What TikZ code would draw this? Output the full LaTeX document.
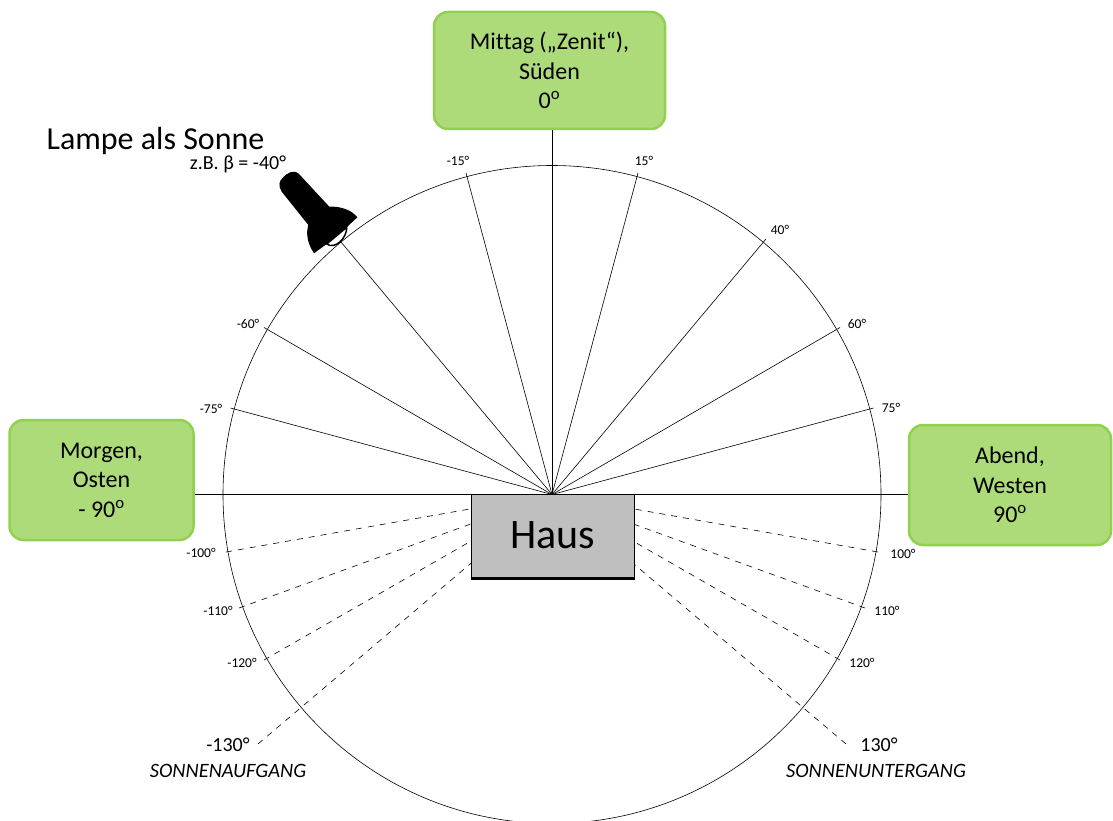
\documentclass[tikz,border=0pt]{standalone}
\usepackage{fontspec}
\setmainfont[Ligatures=NoCommon]{Carlito}
\definecolor{boxgreen}{HTML}{AEDB7A}
\definecolor{boxedge}{HTML}{92D050}
\definecolor{hausgray}{HTML}{BFBFBF}
\tikzset{
  sky/.style={draw=boxedge,fill=boxgreen,line width=2.5pt,rounded corners=14pt,align=center,
    inner sep=0pt,font=\fontsize{24}{29.5}\selectfont},
  ray/.style={line width=0.6pt},
  rayback/.style={line width=0.6pt,dash pattern=on 6pt off 6pt},
  deg/.style={font=\fontsize{13.5}{16}\selectfont,inner sep=0pt},
  degbig/.style={font=\fontsize{20}{24}\selectfont,inner sep=0pt},
  horizon/.style={font=\fontsize{20.4}{24}\itshape\selectfont,inner sep=0pt}
}

\begin{document}
\begin{tikzpicture}[x=1pt,y=-1pt]
  \useasboundingbox (0,0) rectangle (1113,821);
  \coordinate (hub) at (552,494.5);
  \node[sky,minimum width=231pt,minimum height=117pt] (mittag) at (549.5,70.5)
    {Mittag („Zenit“),\\Süden\\0\textsuperscript{o}};
  \node[sky,minimum width=184pt,minimum height=120pt] (morgen) at (101.5,480)
    {Morgen,\\Osten\\- 90\textsuperscript{o}};
  \node[sky,minimum width=202pt,minimum height=120pt] (abend) at (1010,485)
    {Abend,\\Westen\\90\textsuperscript{o}};
  \draw[line width=0.6pt] (hub) circle [radius=329];
  % rays above the horizon
  \coordinate (e15) at (638,173);
  \coordinate (e40) at (766,239);
  \coordinate (e60) at (840,327.5);
  \coordinate (e75) at (873.5,408);
  \coordinate (w15) at (466,173);
  \coordinate (w40) at (341,242);
  \coordinate (w60) at (264,327.5);
  \coordinate (w75) at (230.5,408);
  \draw[ray] (hub) -- (mittag.south -| hub);
  \draw[ray] (hub) -- (morgen.east |- hub);
  \draw[ray] (hub) -- (abend.west |- hub);
  \draw[ray] (hub) -- (e15);
  \draw[ray] (hub) -- (e40);
  \draw[ray] (hub) -- (e60);
  \draw[ray] (hub) -- (e75);
  \draw[ray] (hub) -- (w15);
  \draw[ray] (hub) -- (w40);
  \draw[ray] (hub) -- (w60);
  \draw[ray] (hub) -- (w75);
  % rays below the horizon
  \coordinate (e100) at (878,552);
  \coordinate (e110) at (865,608);
  \coordinate (e120) at (840,660);
  \coordinate (e130) at (846,744);
  \coordinate (w100) at (226,552);
  \coordinate (w110) at (239,608);
  \coordinate (w120) at (264,660);
  \coordinate (w130) at (258,744);
  \draw[rayback] (e100) -- (hub);
  \draw[rayback] (e110) -- (hub);
  \draw[rayback] (e120) -- (hub);
  \draw[rayback] (e130) -- (hub);
  \draw[rayback] (w100) -- (hub);
  \draw[rayback] (w110) -- (hub);
  \draw[rayback] (w120) -- (hub);
  \draw[rayback] (w130) -- (hub);
  % house
  \node[draw=black,fill=hausgray,line width=1pt,minimum width=163pt,minimum height=84pt,inner sep=0pt,
    font=\fontsize{42}{48}\selectfont] (haus) at (552.5,536) {\raisebox{2pt}{Haus}};
  \draw[line width=3pt] (haus.south west) -- (haus.south east);
  % lamp
  \fill (281.7,191.7) .. controls (278,186) and (279,181) .. (283,177.5)
    .. controls (287,173) and (294,169) .. (299,174)
    -- (329.3,206.7) .. controls (340,206) and (352,210) .. (357.3,217.3)
    -- (346.7,227.3) -- (326.7,244) -- (314,253.3)
    .. controls (307,243) and (306,233) .. (308.3,225) -- cycle;
  \draw[fill=white,line width=1.5pt] (346.7,227.3) .. controls (347,238) and (335,250) .. (326.7,244) -- cycle;
  % labels
  \node[deg] (lm15) at (458,161) {-15°};
  \node[deg] (lp15) at (644,161) {15°};
  \node[deg] (lp40) at (780,230) {40°};
  \node[deg] (lp60) at (857,324) {60°};
  \node[deg] (lp75) at (891,408) {75°};
  \node[deg] (lm60) at (248,324) {-60°};
  \node[deg] (lm75) at (211,409) {-75°};
  \node[deg] (lm100) at (201,553) {-100°};
  \node[deg] (lm110) at (218,611) {-110°};
  \node[deg] (lm120) at (242,663) {-120°};
  \node[deg] (lp100) at (903,554) {100°};
  \node[deg] (lp110) at (887,611) {110°};
  \node[deg] (lp120) at (862,663) {120°};
  \node[degbig] (lm130) at (228,745) {-130°};
  \node[degbig] (lp130) at (879,745) {130°};
  \node[horizon] (auf) at (228,771) {SONNENAUFGANG};
  \node[horizon] (unter) at (876,771) {SONNENUNTERGANG};
  \node[inner sep=0pt,font=\fontsize{32}{36}\selectfont] (lampe) at (155.5,141) {Lampe als Sonne};
  \node[inner sep=0pt,font=\fontsize{20}{24}\selectfont] (beta) at (238,164) {z.B. β = -40°};
\end{tikzpicture}
\end{document}
